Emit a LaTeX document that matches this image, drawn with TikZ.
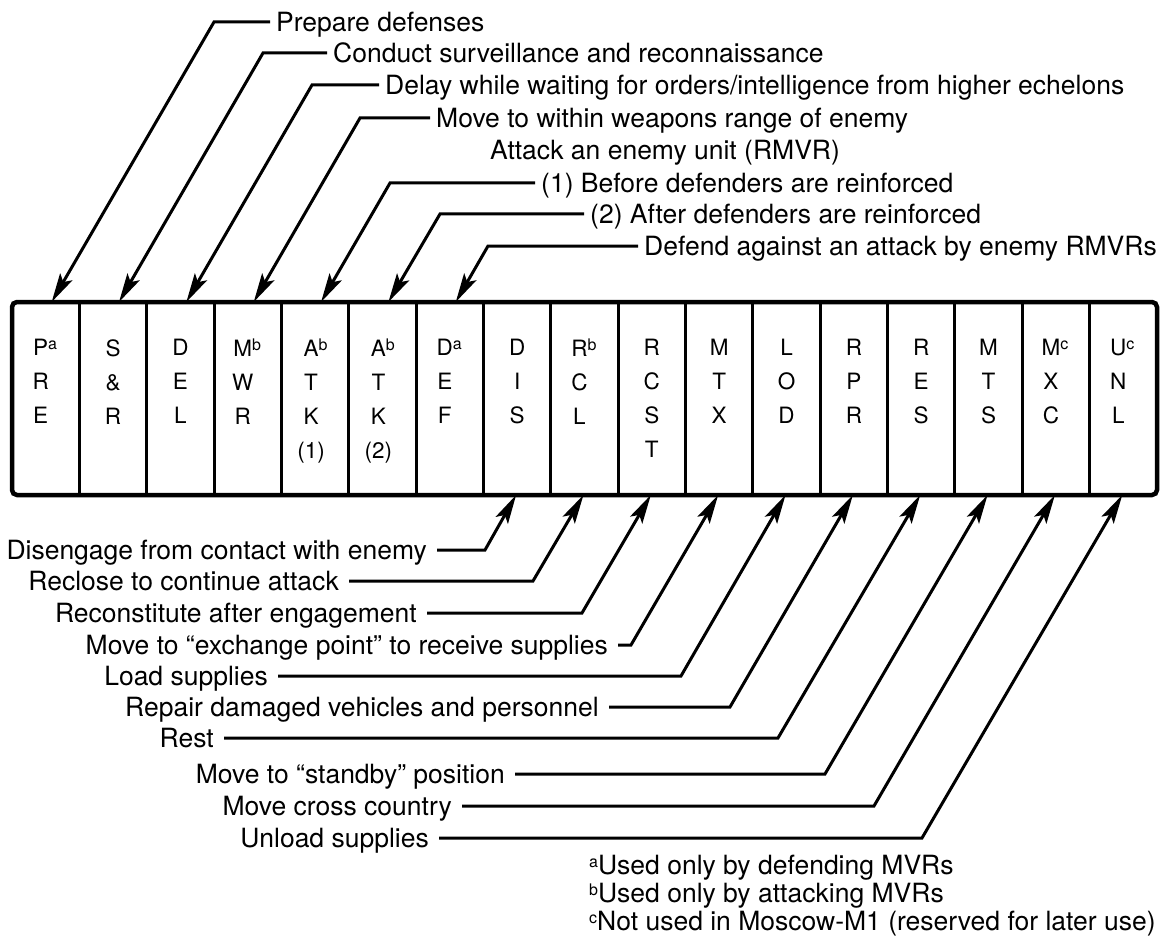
\documentclass[tikz,border=0pt]{standalone}
\usepackage{fontspec}
\setmainfont{TeX Gyre Heros}
\usetikzlibrary{arrows.meta}

% small raised footnote marks
\newcommand\fnmark[1]{\raisebox{7pt}{\fontsize{16}{16}\selectfont #1}}
\newcommand\cellmark[1]{\rlap{\raisebox{-1pt}{\fnmark{#1}}}}

\begin{document}
\begin{tikzpicture}[x=1pt,y=-1pt,
  lab/.style={font=\fontsize{26.5}{30}\selectfont, inner sep=0pt, text height=19pt, text depth=0pt},
  cellbox/.style={minimum width=67.35pt, minimum height=193pt, inner sep=0pt, outer sep=0pt},
  letters/.style={font=\fontsize{22.5}{34}\selectfont, align=center, inner sep=0pt, anchor=north},
  divider/.style={line width=3pt},
  frame/.style={line width=4.5pt, rounded corners=5pt},
  conn/.style={line width=3pt, -{Stealth[length=29pt,width=14pt,inset=6pt]}},
]
\useasboundingbox (0,0) rectangle (1163,947);

% the seventeen activity cells
\foreach \i/\nm/\sh/\txt in {
  0/PRE/-5pt/{P\cellmark{a}\\R\\E},
  1/SR/0pt/{S\\\&\\R},
  2/DEL/0pt/{D\\E\\L},
  3/MWR/-5pt/{M\cellmark{b}\\W\\R},
  4/ATKa/-4pt/{A\cellmark{b}\\T\\K\\(1)},
  5/ATKb/-4pt/{A\cellmark{b}\\T\\K\\(2)},
  6/DEF/-5pt/{D\cellmark{a}\\E\\F},
  7/DIS/0pt/{D\\I\\S},
  8/RCL/-5pt/{R\cellmark{b}\\C\\L},
  9/RCST/0pt/{R\\C\\S\\T},
  10/MTX/0pt/{M\\T\\X},
  11/LOD/0pt/{L\\O\\D},
  12/RPR/0pt/{R\\P\\R},
  13/RES/0pt/{R\\E\\S},
  14/MTS/0pt/{M\\T\\S},
  15/MXC/-5pt/{M\cellmark{c}\\X\\C},
  16/UNL/-5pt/{U\cellmark{c}\\N\\L}} {
  \node[cellbox] (\nm) at ({12+67.35*(\i+0.5)},398.5) {};
  \node[letters] (t\nm) at ([xshift=\sh, yshift=-37pt]\nm.north) {\txt};
}
\foreach \k in {1,...,16} \draw[divider] ({12+67.35*\k},302) -- ({12+67.35*\k},495);
\draw[frame] (12,302) rectangle (1157,495);

% activities entered from above
\node[lab, anchor=west] (lPRE)  at (276,22)  {Prepare defenses};
\node[lab, anchor=west] (lSR)   at (333,53)  {Conduct surveillance and reconnaissance};
\node[lab, anchor=west] (lDEL)  at (385,85)  {Delay while waiting for orders/intelligence from higher echelons};
\node[lab, anchor=west] (lMWR)  at (436,118) {Move to within weapons range of enemy};
\node[lab, anchor=west] (lATK)  at (490,150) {Attack an enemy unit (RMVR)};
\node[lab, anchor=west] (lATKa) at (541,183) {(1) Before defenders are reinforced};
\node[lab, anchor=west] (lATKb) at (590,214) {(2) After defenders are reinforced};
\node[lab, anchor=west] (lDEF)  at (644,246) {Defend against an attack by enemy RMVRs};

\coordinate (bPRE)  at (214,22);
\coordinate (bSR)   at (263,53);
\coordinate (bDEL)  at (312,85);
\coordinate (bMWR)  at (360,118);
\coordinate (bATKa) at (390,183);
\coordinate (bATKb) at (440,214);
\coordinate (bDEF)  at (488,246);

\foreach \nm in {PRE,SR,DEL,MWR,ATKa,ATKb,DEF}
  \draw[conn] ([xshift=-6pt]l\nm.west) -- (b\nm) -- ([xshift=6pt]\nm.north);

% activities entered from below
\node[lab, anchor=east] (lDIS)  at (427,550) {Disengage from contact with enemy};
\node[lab, anchor=east] (lRCL)  at (339,581) {Reclose to continue attack};
\node[lab, anchor=east] (lRCST) at (417,613) {Reconstitute after engagement};
\node[lab, anchor=east] (lMTX)  at (608,645) {Move to “exchange point” to receive supplies};
\node[lab, anchor=east] (lLOD)  at (268,676) {Load supplies};
\node[lab, anchor=east] (lRPR)  at (599,707) {Repair damaged vehicles and personnel};
\node[lab, anchor=east] (lRES)  at (214,738) {Rest};
\node[lab, anchor=east] (lMTS)  at (505,774) {Move to “standby” position};
\node[lab, anchor=east] (lMXC)  at (452,806) {Move cross country};
\node[lab, anchor=east] (lUNL)  at (429,838) {Unload supplies};

\coordinate (bDIS)  at (485,550);
\coordinate (bRCL)  at (533,581);
\coordinate (bRCST) at (582,613);
\coordinate (bMTX)  at (631,645);
\coordinate (bLOD)  at (681,676);
\coordinate (bRPR)  at (730,707);
\coordinate (bRES)  at (778,738);
\coordinate (bMTS)  at (825,774);
\coordinate (bMXC)  at (874,806);
\coordinate (bUNL)  at (922,838);

\foreach \nm in {DIS,RCL,RCST,MTX,LOD,RPR,RES,MTS,MXC,UNL}
  \draw[conn] ([xshift=10pt]l\nm.east) -- (b\nm) -- ([xshift=-1pt]\nm.south);

% footnotes
\node[lab, anchor=west] (fa) at (589,865) {\fnmark{a}Used only by defending MVRs};
\node[lab, anchor=west] (fb) at (589,893) {\fnmark{b}Used only by attacking MVRs};
\node[lab, anchor=west] (fc) at (589,921) {\fnmark{c}Not used in Moscow-M1 (reserved for later use)};
\end{tikzpicture}
\end{document}
